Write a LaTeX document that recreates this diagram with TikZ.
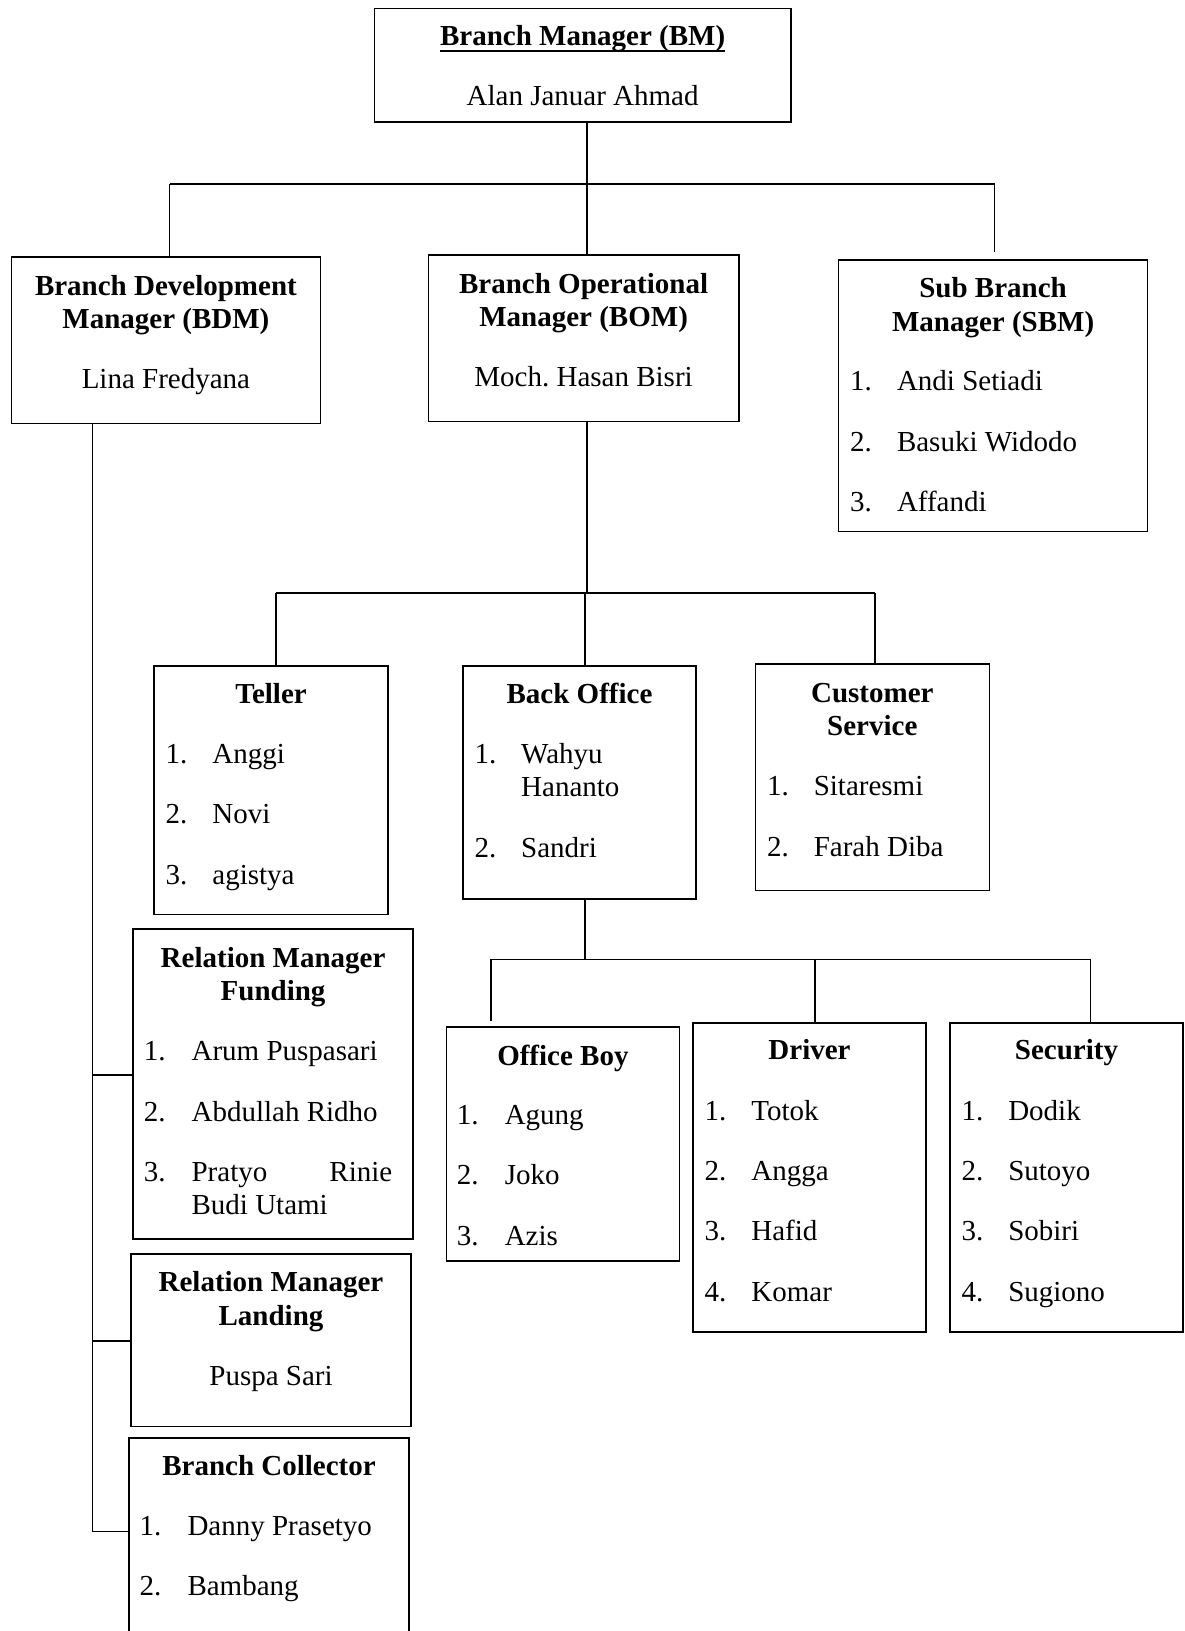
\documentclass[tikz,border=0pt]{standalone}
\usepackage{fontspec}
\setmainfont{Liberation Serif}
\usetikzlibrary{calc}
\frenchspacing
\tikzset{
  boxst/.style={draw, line width=1.6pt, rectangle, inner sep=0pt},
  conn/.style={line width=1.6pt},
  txt/.style={inner sep=0pt, anchor=base, font=\fontsize{29}{33}\selectfont},
  ttlst/.style={inner sep=0pt, anchor=base, font=\fontsize{29}{33}\selectfont\bfseries},
  lstst/.style={inner sep=0pt, anchor=base west, font=\fontsize{29}{33}\selectfont}
}
\newcommand\bx[5]{\node[boxst, minimum width={#4-#2}, minimum height={#5-#3}] (#1) at ({(#2+#4)/2},{(#3+#5)/2}) {};}
\newcommand\lstitem[6]{\node[lstst] (#1n) at (#2,#4) {#5.}; \node[lstst] (#1t) at (#3,#4) {#6};}
\begin{document}
\begin{tikzpicture}[x=1pt,y=-1pt]
\useasboundingbox (0,0) rectangle (1184,1631);
% boxes
\bx{bm}{374.6}{8.3}{790.7}{121.7}
\bx{bdm}{11.4}{257}{320.4}{423.4}
\bx{bom}{428.6}{254.9}{738.7}{421.4}
\bx{sbm}{838.6}{260.1}{1147.6}{531.6}
\bx{teller}{154}{665.9}{388}{914.5}
\bx{bo}{463}{665.9}{696}{898.9}
\bx{cs}{755.3}{663.8}{989.4}{890.6}
\bx{ob}{446.3}{1027}{679.4}{1261}
\bx{drv}{692.9}{1022.7}{926}{1331.7}
\bx{sec}{949.9}{1022.7}{1183}{1331.7}
\bx{rmf}{133.2}{929.1}{413}{1239.1}
\bx{rml}{131.1}{1253.7}{411}{1426.4}
\bx{bc}{129}{1437.9}{408.9}{1660}
% BM
\node[ttlst] (bmt) at (582.6,45.7) {Branch Manager (BM)};
\draw[line width=1.8pt] ([yshift=-5pt]bmt.base west) -- ([yshift=-5pt]bmt.base east);
\node[txt] (bmn) at (582.6,105.4) {Alan Januar Ahmad};
% BDM
\node[ttlst] (bdmt1) at (165.9,295) {Branch Development};
\node[ttlst] (bdmt2) at (165.9,328.4) {Manager (BDM)};
\node[txt] (bdmn) at (165.9,388.7) {Lina Fredyana};
% BOM
\node[ttlst] (bomt1) at (583.6,293) {Branch Operational};
\node[ttlst] (bomt2) at (583.6,326.3) {Manager (BOM)};
\node[txt] (bomn) at (583.6,386.7) {Moch.\ Hasan Bisri};
% SBM
\node[ttlst] (sbmt1) at (993.1,297.2) {Sub Branch};
\node[ttlst] (sbmt2) at (993.1,331.5) {Manager (SBM)};
\lstitem{sbma}{850}{896.8}{390.8}{1}{Andi Setiadi}
\lstitem{sbmb}{850}{896.8}{451.2}{2}{Basuki Widodo}
\lstitem{sbmc}{850}{896.8}{511.5}{3}{Affandi}
% Teller
\node[ttlst] (tlt) at (271,703) {Teller};
\lstitem{tla}{165.4}{212.2}{763.3}{1}{Anggi}
\lstitem{tlb}{165.4}{212.2}{823.7}{2}{Novi}
\lstitem{tlc}{165.4}{212.2}{884}{3}{agistya}
% Back Office
\node[ttlst] (bot) at (579.5,703) {Back Office};
\lstitem{boa}{474.4}{521}{763.3}{1}{Wahyu}
\node[lstst] (boa2) at (521,796.6) {Hananto};
\lstitem{bob}{474.4}{521}{857}{2}{Sandri}
% Customer Service
\node[ttlst] (cst1) at (872.3,702) {Customer};
\node[ttlst] (cst2) at (872.3,735.2) {Service};
\lstitem{csa}{766.8}{813.6}{795.5}{1}{Sitaresmi}
\lstitem{csb}{766.8}{813.6}{856}{2}{Farah Diba}
% Office Boy
\node[ttlst] (obt) at (562.9,1065) {Office Boy};
\lstitem{oba}{456.7}{504.6}{1124.3}{1}{Agung}
\lstitem{obb}{456.7}{504.6}{1184.7}{2}{Joko}
\lstitem{obc}{456.7}{504.6}{1245}{3}{Azis}
% Driver
\node[ttlst] (drvt) at (809.5,1059.8) {Driver};
\lstitem{drva}{704.4}{751.2}{1120.1}{1}{Totok}
\lstitem{drvb}{704.4}{751.2}{1180.5}{2}{Angga}
\lstitem{drvc}{704.4}{751.2}{1240.8}{3}{Hafid}
\lstitem{drvd}{704.4}{751.2}{1301.2}{4}{Komar}
% Security
\node[ttlst] (sect) at (1066.5,1059.8) {Security};
\lstitem{seca}{961.3}{1008.1}{1120.1}{1}{Dodik}
\lstitem{secb}{961.3}{1008.1}{1180.5}{2}{Sutoyo}
\lstitem{secc}{961.3}{1008.1}{1240.8}{3}{Sobiri}
\lstitem{secd}{961.3}{1008.1}{1301.2}{4}{Sugiono}
% RM Funding
\node[ttlst] (rmft1) at (273.1,967.2) {Relation Manager};
\node[ttlst] (rmft2) at (273.1,1000.5) {Funding};
\lstitem{rmfa}{143.6}{191.4}{1060.8}{1}{Arum Puspasari}
\lstitem{rmfb}{143.6}{191.4}{1121.2}{2}{Abdullah Ridho}
\lstitem{rmfc}{143.6}{191.4}{1181.5}{3}{Pratyo}
\node[txt, anchor=base east] (rmfc2) at (392.5,1181.5) {Rinie};
\node[lstst] (rmfc3) at (191.4,1214.8) {Budi Utami};
% RM Landing
\node[ttlst] (rmlt1) at (271,1291.8) {Relation Manager};
\node[ttlst] (rmlt2) at (271,1325.1) {Landing};
\node[txt] (rmln) at (271,1385.4) {Puspa Sari};
% Branch Collector
\node[ttlst] (bct) at (269,1475) {Branch Collector};
\lstitem{bca}{139.4}{187.3}{1535.3}{1}{Danny Prasetyo}
\lstitem{bcb}{139.4}{187.3}{1595.6}{2}{Bambang}
% connectors level 1
\coordinate (b1) at (169.6,184.2);
\coordinate (b2) at (994.6,184.2);
\coordinate (b3) at (586.8,184.2);
\draw[conn] (bm.south -| b3) -- (bom.north -| b3);
\draw[conn] (b1) -- (b2);
\draw[conn] (b1) -- (bdm.north -| b1);
\draw[conn] (b2) -- ($(sbm.north -| b2)+(0,-7)$);
% level 2
\coordinate (c1) at (275.7,593);
\coordinate (c2) at (875,593);
\coordinate (c3) at (586.8,593);
\coordinate (c4) at (584.7,593);
\draw[conn] (bom.south -| c3) -- (c3);
\draw[conn] (c1) -- (c2);
\draw[conn] (c1) -- (teller.north -| c1);
\draw[conn] (c4) -- (bo.north -| c4);
\draw[conn] (c2) -- (cs.north -| c2);
% level 3
\coordinate (d1) at (491,959.3);
\coordinate (d2) at (1090.4,959.3);
\coordinate (d3) at (584.7,959.3);
\coordinate (d4) at (815,959.3);
\draw[conn] (bo.south -| d3) -- (d3);
\draw[conn] (d1) -- (d2);
\draw[conn] (d1) -- ($(ob.north -| d1)+(0,-5)$);
\draw[conn] (d4) -- (drv.north -| d4);
\draw[conn] (d2) -- (sec.north -| d2);
% left branch
\coordinate (e0) at (92.6,0);
\coordinate (e1) at (92.6,1531.5);
\coordinate (e2) at (92.6,1074.7);
\coordinate (e3) at (92.6,1341);
\draw[conn] (bdm.south -| e0) -- (e1);
\draw[conn] (e1) -- (bc.west |- e1);
\draw[conn] (e2) -- (rmf.west |- e2);
\draw[conn] (e3) -- (rml.west |- e3);
\end{tikzpicture}
\end{document}
